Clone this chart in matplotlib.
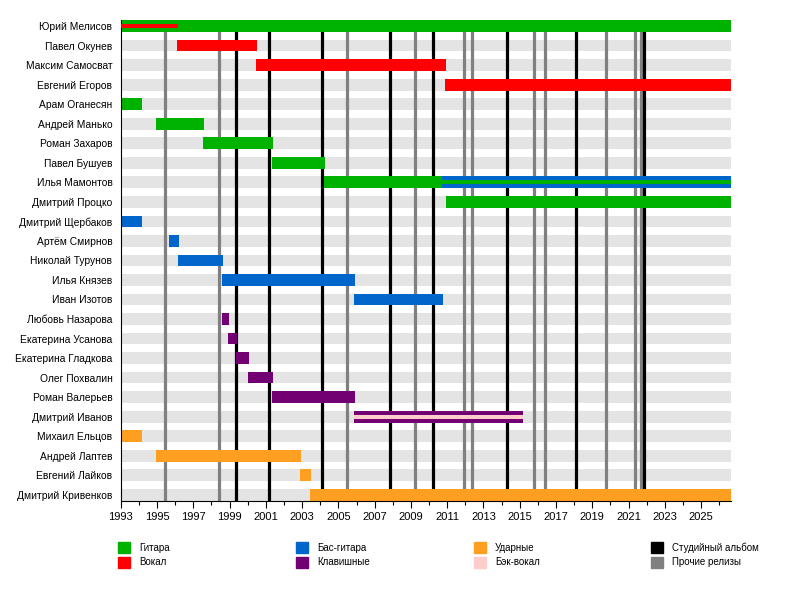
import matplotlib
matplotlib.use("Agg")
import matplotlib.pyplot as plt
from matplotlib.patches import Patch

plt.rcParams['font.family'] = ['Liberation Sans', 'DejaVu Sans']

names = ["Юрий Мелисов", "Павел Окунев", "Максим Самосват", "Евгений Егоров",
         "Арам Оганесян", "Андрей Манько", "Роман Захаров", "Павел Бушуев",
         "Илья Мамонтов", "Дмитрий Процко", "Дмитрий Щербаков", "Артём Смирнов",
         "Николай Турунов", "Илья Князев", "Иван Изотов", "Любовь Назарова",
         "Екатерина Усанова", "Екатерина Гладкова", "Олег Похвалин",
         "Роман Валерьев", "Дмитрий Иванов", "Михаил Ельцов", "Андрей Лаптев",
         "Евгений Лайков", "Дмитрий Кривенков"]

START = 1993
END = 2026.66

# main bars: (member, start, end, role)
bars = [
    ("Юрий Мелисов", 1993, END, "guitar"),
    ("Павел Окунев", 1996.1, 2000.52, "vocal"),
    ("Максим Самосват", 2000.46, 2010.94, "vocal"),
    ("Евгений Егоров", 2010.89, END, "vocal"),
    ("Арам Оганесян", 1993, 1994.17, "guitar"),
    ("Андрей Манько", 1994.95, 1997.6, "guitar"),
    ("Роман Захаров", 1997.54, 2001.4, "guitar"),
    ("Павел Бушуев", 2001.35, 2004.27, "guitar"),
    ("Илья Мамонтов", 2004.22, 2010.75, "guitar"),
    ("Илья Мамонтов", 2010.7, END, "bass"),
    ("Дмитрий Процко", 2010.94, END, "guitar"),
    ("Дмитрий Щербаков", 1993, 1994.17, "bass"),
    ("Артём Смирнов", 1995.66, 1996.2, "bass"),
    ("Николай Турунов", 1996.16, 1998.64, "bass"),
    ("Илья Князев", 1998.59, 2005.92, "bass"),
    ("Иван Изотов", 2005.85, 2010.78, "bass"),
    ("Любовь Назарова", 1998.59, 1998.97, "keys"),
    ("Екатерина Усанова", 1998.92, 1999.42, "keys"),
    ("Екатерина Гладкова", 1999.36, 2000.08, "keys"),
    ("Олег Похвалин", 2000.02, 2001.4, "keys"),
    ("Роман Валерьев", 2001.35, 2005.92, "keys"),
    ("Дмитрий Иванов", 2005.85, 2015.19, "keys"),
    ("Михаил Ельцов", 1993, 1994.17, "drums"),
    ("Андрей Лаптев", 1994.95, 2002.94, "drums"),
    ("Евгений Лайков", 2002.89, 2003.5, "drums"),
    ("Дмитрий Кривенков", 2003.44, END, "drums"),
]

# thin inner bars (second role)
inner = [
    ("Юрий Мелисов", 1993, 1996.14, "vocal"),
    ("Илья Мамонтов", 2010.7, END, "guitar"),
    ("Дмитрий Иванов", 2005.85, 2015.19, "backing"),
]

studio_albums = [1999.38, 2001.18, 2004.08, 2007.82, 2010.24, 2014.27,
                 2018.08, 2021.83]
other_releases = [1995.46, 1998.44, 2005.46, 2009.25, 2011.95, 2012.39,
                  2015.76, 2016.37, 2019.73, 2021.33, 2021.66]

colors = {
    "guitar": "#00b200",
    "vocal": "#ff0000",
    "bass": "#0066cc",
    "keys": "#730073",
    "drums": "#ff9f22",
    "backing": "#ffcccc",
}
labels = {
    "guitar": "Гитара",
    "vocal": "Вокал",
    "bass": "Бас-гитара",
    "keys": "Клавишные",
    "drums": "Ударные",
    "backing": "Бэк-вокал",
}

fig = plt.figure(figsize=(8, 5.9), dpi=100)
ax = fig.add_axes([0.151, 0.1514, 0.763, 0.8147])

rows = {n: i for i, n in enumerate(names)}

# background stripes
ax.barh(range(len(names)), END - START, left=START, height=0.6,
        color="#e4e4e4", zorder=0)

for x in other_releases:
    ax.axvline(x, color="#808080", lw=2.3, zorder=1)
for x in studio_albums:
    ax.axvline(x, color="black", lw=2.3, zorder=1)

for n, s, e, r in bars:
    ax.barh(rows[n], e - s, left=s, height=0.6, color=colors[r], zorder=2)
for n, s, e, r in inner:
    ax.barh(rows[n], e - s, left=s, height=0.2, color=colors[r], zorder=3)

ax.set_xlim(START, END)
ax.set_ylim(len(names) - 0.7, -0.31)
ax.set_yticks(range(len(names)))
ax.set_yticklabels(names, fontsize=7.4)
ax.tick_params(axis="y", length=0, pad=6)
ax.set_xticks(range(1993, 2027, 2))
ax.set_xticks(range(1993, 2027), minor=True)
ax.tick_params(axis="x", which="major", length=5, width=0.8, labelsize=8, pad=3)
ax.tick_params(axis="x", which="minor", length=3, width=0.8)
for side in ["top", "right"]:
    ax.spines[side].set_visible(False)
ax.spines["left"].set_linewidth(0.8)
ax.spines["bottom"].set_linewidth(0.8)
ax.spines["bottom"].set_zorder(4)

legend_groups = [
    [(colors["guitar"], labels["guitar"]), (colors["vocal"], labels["vocal"])],
    [(colors["bass"], labels["bass"]), (colors["keys"], labels["keys"])],
    [(colors["drums"], labels["drums"]), (colors["backing"], labels["backing"])],
    [("black", "Студийный альбом"), ("#808080", "Прочие релизы")],
]
col_x = [0.1475, 0.37, 0.5925, 0.8134]
for cx, group in zip(col_x, legend_groups):
    handles = [Patch(color=c, label=l) for c, l in group]
    fig.legend(handles=handles, loc="upper left", bbox_to_anchor=(cx, 0.0815),
               frameon=False, fontsize=7, handlelength=1.23, handleheight=1.34,
               handletextpad=0.93, labelspacing=0.41, borderpad=0, borderaxespad=0)

fig.savefig("out.png", dpi=100)
